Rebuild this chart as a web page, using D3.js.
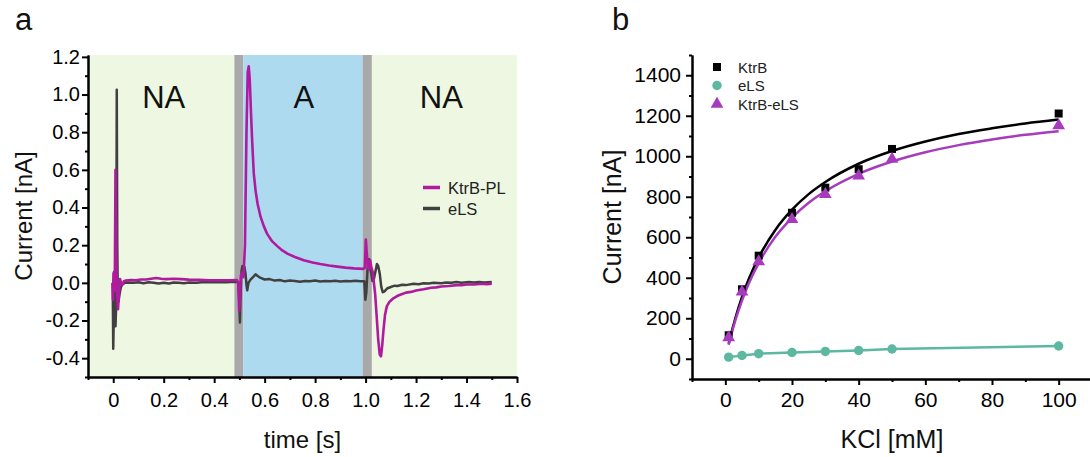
<!DOCTYPE html>
<html>
<head>
<meta charset="utf-8">
<script src="https://cdn.jsdelivr.net/npm/d3@7"></script>
<style>
  html, body { margin: 0; padding: 0; background: #fff; }
  svg { display: block; font-family: "Liberation Sans", Arial, sans-serif; }
</style>
</head>
<body>
<svg id="fig" width="1090" height="457"></svg>
<script>
// ---------- Panel a: current traces vs time ----------
// Solution-exchange phases (s): NA / wash / A / wash / NA
const bandStart = [-0.1, 0.48, 0.515, 0.988, 1.025];
const bandEnd   = [0.48, 0.515, 0.988, 1.025, 1.6];
const bandKind  = ["NA", "wash", "A", "wash", "NA"];
const phaseLabels = ["NA", "A", "NA"];
const phaseLabelT = [0.2, 0.755, 1.3];

// KtrB-PL trace [time s, current nA]
const ktrbPL = [
  [-0.003, 0.0], [-0.001, -0.09], [0.001, 0.05], [0.004, 0.06], [0.006, -0.04],
  [0.009, 0.60], [0.012, 0.15], [0.015, -0.06], [0.019, -0.14], [0.023, -0.05],
  [0.027, 0.02], [0.031, 0.0], [0.036, -0.01], [0.042, 0.008], [0.05, 0.012],
  [0.07, 0.015], [0.09, 0.014], [0.11, 0.018], [0.13, 0.018], [0.15, 0.022],
  [0.17, 0.026], [0.19, 0.022], [0.21, 0.02], [0.24, 0.022], [0.27, 0.02],
  [0.3, 0.017], [0.34, 0.016], [0.38, 0.014], [0.42, 0.013], [0.46, 0.014],
  [0.49, 0.015], [0.496, 0.0], [0.499, -0.15], [0.502, -0.08], [0.506, 0.04],
  [0.511, 0.055], [0.516, 0.03], [0.522, 0.2], [0.528, 0.8], [0.533, 1.12],
  [0.537, 1.15], [0.541, 1.08], [0.546, 0.90], [0.551, 0.74], [0.557, 0.58],
  [0.564, 0.49], [0.572, 0.42], [0.584, 0.35], [0.597, 0.30], [0.61, 0.26],
  [0.63, 0.22], [0.65, 0.195], [0.67, 0.172], [0.69, 0.155], [0.72, 0.137],
  [0.755, 0.12], [0.79, 0.108], [0.82, 0.10], [0.855, 0.092], [0.888, 0.086],
  [0.92, 0.081], [0.954, 0.077], [0.99, 0.074], [0.997, 0.08], [1.001, 0.23],
  [1.005, 0.15], [1.009, 0.09], [1.013, 0.07], [1.018, 0.12], [1.023, 0.08],
  [1.028, 0.06], [1.033, 0.0], [1.038, -0.06], [1.044, -0.18], [1.05, -0.30],
  [1.056, -0.38], [1.061, -0.39], [1.066, -0.33], [1.071, -0.25], [1.077, -0.17],
  [1.084, -0.125], [1.095, -0.10], [1.11, -0.082], [1.125, -0.07], [1.14, -0.062],
  [1.16, -0.052], [1.18, -0.048], [1.2, -0.041], [1.23, -0.034], [1.26, -0.026],
  [1.28, -0.024], [1.3, -0.019], [1.33, -0.017], [1.36, -0.012], [1.38, -0.013],
  [1.4, -0.009], [1.43, -0.009], [1.46, -0.005], [1.48, -0.007], [1.5, -0.004]
];

// eLS trace [time s, current nA]
const eLS = [
  [-0.004, 0.0], [-0.002, 0.0], [0.0, -0.35], [0.003, -0.12], [0.006, -0.05],
  [0.009, -0.23], [0.012, -0.1], [0.014, 1.025], [0.016, 0.2], [0.018, -0.05],
  [0.021, -0.10], [0.025, -0.06], [0.03, -0.025], [0.036, -0.008], [0.045, 0.0],
  [0.06, 0.002], [0.08, 0.0], [0.1, 0.003], [0.12, -0.002], [0.14, 0.003],
  [0.16, 0.0], [0.18, -0.004], [0.2, 0.0], [0.22, -0.003], [0.24, 0.002],
  [0.26, 0.0], [0.28, -0.002], [0.3, 0.002], [0.33, 0.0], [0.36, 0.004],
  [0.39, 0.003], [0.42, 0.005], [0.45, 0.003], [0.48, 0.006], [0.495, 0.005],
  [0.499, -0.08], [0.502, -0.21], [0.505, -0.05], [0.508, 0.06], [0.512, 0.09],
  [0.516, 0.04], [0.52, 0.085], [0.524, 0.05], [0.528, -0.01], [0.531, -0.04],
  [0.536, 0.0], [0.544, 0.017], [0.554, 0.03], [0.564, 0.045], [0.574, 0.035],
  [0.584, 0.026], [0.6, 0.018], [0.62, 0.02], [0.64, 0.012], [0.66, 0.015],
  [0.68, 0.008], [0.7, 0.012], [0.72, 0.01], [0.74, 0.006], [0.76, 0.01],
  [0.78, 0.008], [0.8, 0.012], [0.82, 0.007], [0.84, 0.01], [0.86, 0.008],
  [0.88, 0.011], [0.9, 0.007], [0.92, 0.01], [0.94, 0.008], [0.96, 0.011],
  [0.98, 0.009], [0.995, 0.008], [0.999, -0.09], [1.003, -0.05], [1.008, 0.08],
  [1.014, 0.125], [1.02, 0.07], [1.027, 0.01], [1.033, 0.02], [1.039, 0.06],
  [1.045, 0.10], [1.05, 0.09], [1.056, 0.05], [1.062, -0.02], [1.068, -0.05],
  [1.075, -0.045], [1.085, -0.03], [1.1, -0.022], [1.115, -0.015], [1.126, -0.017],
  [1.145, -0.01], [1.16, -0.012], [1.19, -0.005], [1.21, -0.007], [1.23, -0.002],
  [1.25, -0.004], [1.27, 0.0], [1.3, -0.002], [1.32, 0.002], [1.34, 0.0],
  [1.36, 0.004], [1.38, 0.001], [1.41, 0.004], [1.43, 0.002], [1.45, 0.005],
  [1.47, 0.002], [1.5, 0.004]
];

const timeTicks = [0, 0.2, 0.4, 0.6, 0.8, 1.0, 1.2, 1.4, 1.6];
const currentTicksA = [-0.4, -0.2, 0.0, 0.2, 0.4, 0.6, 0.8, 1.0, 1.2];

// ---------- Panel b: current vs KCl concentration ----------
const kcl      = [1, 5, 10, 20, 30, 40, 50, 100];
const ktrb     = [116, 343, 509, 721, 845, 936, 1036, 1211];
const elsB     = [8, 16, 25, 31, 36, 41, 48, 63];
const ktrbEls  = [104, 331, 480, 688, 812, 903, 986, 1152];

// fitted saturation curves, sampled along KCl
const fitKcl     = [1, 2, 3, 5, 7, 10, 15, 20, 25, 30, 40, 50, 60, 70, 80, 90, 100];
const ktrbFit    = [74, 140, 200, 305, 393, 500, 636, 736, 813, 873, 963, 1026, 1073, 1110, 1138, 1162, 1181];
const ktrbElsFit = [69, 132, 189, 287, 370, 472, 602, 696, 770, 827, 913, 974, 1020, 1055, 1083, 1106, 1124];

const kclTicks = [0, 20, 40, 60, 80, 100];
const currentTicksB = [0, 200, 400, 600, 800, 1000, 1200, 1400];

// ---------- styling ----------
const C = {
  na: "#edf7e1", a: "#aedaf0", wash: "#a9a9a9",
  magenta: "#b01a9f", dark: "#404040",
  black: "#000000", teal: "#5cb8a0", violet: "#a63bbd"
};

const svg = d3.select("#fig");

function styleAxis(g, fontSize) {
  g.select(".domain").attr("stroke", "#000").attr("stroke-width", 2);
  g.selectAll(".tick line").attr("stroke", "#000").attr("stroke-width", 2);
  g.selectAll(".tick text").attr("fill", "#000")
    .style("font-size", fontSize + "px")
    .style("font-family", '"Liberation Sans", Arial, sans-serif');
}

// ======== Panel a ========
const xA = d3.scaleLinear().domain([-0.1, 1.6]).range([88, 517]);
const yA = d3.scaleLinear().domain([-0.5, 1.21]).range([377, 55]);
const gA = svg.append("g");

gA.selectAll("rect.band")
  .data(d3.range(bandStart.length))
  .join("rect")
  .attr("x", i => xA(bandStart[i]))
  .attr("width", i => xA(bandEnd[i]) - xA(bandStart[i]))
  .attr("y", yA(1.21))
  .attr("height", yA(-0.5) - yA(1.21))
  .attr("fill", i => C[bandKind[i] === "NA" ? "na" : bandKind[i] === "A" ? "a" : "wash"]);

gA.selectAll("text.phase")
  .data(phaseLabels)
  .join("text")
  .attr("x", (d, i) => xA(phaseLabelT[i]))
  .attr("y", 108)
  .attr("text-anchor", "middle")
  .style("font-size", "31px")
  .attr("fill", "#111")
  .text(d => d);

const lineA = d3.line().x(d => xA(d[0])).y(d => yA(d[1]));
gA.append("path").datum(eLS)
  .attr("d", lineA).attr("fill", "none")
  .attr("stroke", C.dark).attr("stroke-width", 2.5).attr("stroke-linejoin", "round");
gA.append("path").datum(ktrbPL)
  .attr("d", lineA).attr("fill", "none")
  .attr("stroke", C.magenta).attr("stroke-width", 2.6).attr("stroke-linejoin", "round");

// legend
const legA = [["KtrB-PL", C.magenta], ["eLS", C.dark]];
legA.forEach(([name, col], i) => {
  const y = 187.5 + i * 21;
  gA.append("line").attr("x1", 423).attr("x2", 440).attr("y1", y).attr("y2", y)
    .attr("stroke", col).attr("stroke-width", 3.5);
  gA.append("text").attr("x", 448).attr("y", y + 6)
    .style("font-size", "16.5px").attr("fill", "#222").text(name);
});

// axes
const fmtTime = d => d === 0 ? "0" : d.toFixed(1);
const axXA = gA.append("g").attr("transform", `translate(0,${yA(-0.5)})`)
  .call(d3.axisBottom(xA).tickValues(timeTicks).tickFormat(fmtTime)
    .tickSize(6).tickSizeOuter(0).tickPadding(10));
styleAxis(axXA, 20);
const axXAm = gA.append("g").attr("transform", `translate(0,${yA(-0.5)})`)
  .call(d3.axisBottom(xA).tickValues(d3.range(-0.1, 1.65, 0.2)).tickFormat("").tickSize(3).tickSizeOuter(0));
styleAxis(axXAm, 20);

const axYA = gA.append("g").attr("transform", `translate(${xA(-0.1)},0)`)
  .call(d3.axisLeft(yA).tickValues(currentTicksA).tickFormat(d => d.toFixed(1))
    .tickSize(6).tickSizeOuter(0).tickPadding(2));
styleAxis(axYA, 20);
const axYAm = gA.append("g").attr("transform", `translate(${xA(-0.1)},0)`)
  .call(d3.axisLeft(yA).tickValues(d3.range(-0.5, 1.15, 0.2)).tickFormat("").tickSize(3).tickSizeOuter(0));
styleAxis(axYAm, 20);

gA.append("text").attr("x", (88 + 517) / 2).attr("y", 448)
  .attr("text-anchor", "middle").style("font-size", "24px").attr("fill", "#111")
  .text("time [s]");
gA.append("text").attr("transform", "translate(32,216) rotate(-90)")
  .attr("text-anchor", "middle").style("font-size", "24px").attr("fill", "#111")
  .text("Current [nA]");
svg.append("text").attr("x", 15).attr("y", 29.5)
  .style("font-size", "31px").attr("fill", "#111").text("a");

// ======== Panel b ========
const xB = d3.scaleLinear().domain([-10, 110]).range([692, 1092]);
const yB = d3.scaleLinear().domain([-100, 1500]).range([379, 55]);
const gB = svg.append("g");

const axXB = gB.append("g").attr("transform", `translate(0,${yB(-100)})`)
  .call(d3.axisBottom(xB).tickValues(kclTicks).tickSize(6).tickSizeOuter(0).tickPadding(7));
styleAxis(axXB, 21);
const axXBm = gB.append("g").attr("transform", `translate(0,${yB(-100)})`)
  .call(d3.axisBottom(xB).tickValues(d3.range(-10, 115, 20)).tickFormat("").tickSize(3).tickSizeOuter(0));
styleAxis(axXBm, 21);

const axYB = gB.append("g").attr("transform", `translate(${xB(-10)},0)`)
  .call(d3.axisLeft(yB).tickValues(currentTicksB).tickFormat(d3.format("d"))
    .tickSize(6).tickSizeOuter(0).tickPadding(5));
styleAxis(axYB, 21);
const axYBm = gB.append("g").attr("transform", `translate(${xB(-10)},0)`)
  .call(d3.axisLeft(yB).tickValues(d3.range(-100, 1550, 200)).tickFormat("").tickSize(3).tickSizeOuter(0));
styleAxis(axYBm, 21);

const curveLine = d3.line().curve(d3.curveMonotoneX).x(d => xB(d[0])).y(d => yB(d[1]));
const straight = d3.line().x(d => xB(d[0])).y(d => yB(d[1]));

gB.append("path").datum(kcl.map((k, i) => [k, elsB[i]]))
  .attr("d", straight).attr("fill", "none").attr("stroke", C.teal).attr("stroke-width", 2.5);
gB.append("path").datum(fitKcl.map((k, i) => [k, ktrbFit[i]]))
  .attr("d", curveLine).attr("fill", "none").attr("stroke", C.black).attr("stroke-width", 2.5);
gB.append("path").datum(fitKcl.map((k, i) => [k, ktrbElsFit[i]]))
  .attr("d", curveLine).attr("fill", "none").attr("stroke", C.violet).attr("stroke-width", 2.5);

const sq = d3.symbol().type(d3.symbolSquare).size(64);
const circ = d3.symbol().type(d3.symbolCircle).size(70);
const tri = d3.symbol().type(d3.symbolTriangle).size(70);

gB.selectAll("path.pe").data(kcl).join("path")
  .attr("transform", (k, i) => `translate(${xB(k)},${yB(elsB[i])})`)
  .attr("d", circ).attr("fill", C.teal);
gB.selectAll("path.pk").data(kcl).join("path")
  .attr("transform", (k, i) => `translate(${xB(k)},${yB(ktrb[i])})`)
  .attr("d", sq).attr("fill", C.black);
gB.selectAll("path.pt").data(kcl).join("path")
  .attr("transform", (k, i) => `translate(${xB(k)},${yB(ktrbEls[i])})`)
  .attr("d", tri).attr("fill", C.violet);

// legend
const legB = [["KtrB", sq, C.black], ["eLS", circ, C.teal], ["KtrB-eLS", tri, C.violet]];
legB.forEach(([name, sym, col], i) => {
  const y = 67 + i * 18.5;
  gB.append("path").attr("transform", `translate(717,${y})`).attr("d", sym).attr("fill", col);
  gB.append("text").attr("x", 738).attr("y", y + 5.5)
    .style("font-size", "15px").attr("fill", "#222").text(name);
});

gB.append("text").attr("x", (692 + 1092) / 2).attr("y", 448)
  .attr("text-anchor", "middle").style("font-size", "25px").attr("fill", "#111")
  .text("KCl [mM]");
gB.append("text").attr("transform", "translate(621,217) rotate(-90)")
  .attr("text-anchor", "middle").style("font-size", "25px").attr("fill", "#111")
  .text("Current [nA]");
svg.append("text").attr("x", 612).attr("y", 29.5)
  .style("font-size", "31px").attr("fill", "#111").text("b");
</script>
</body>
</html>
